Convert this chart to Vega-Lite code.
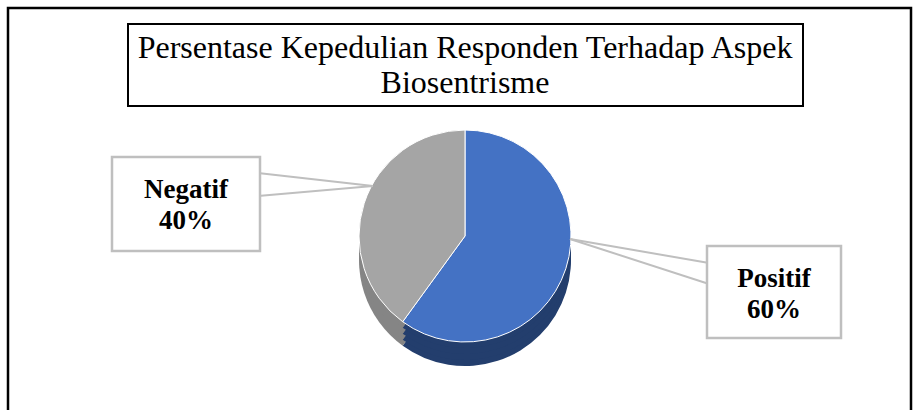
{
  "$schema": "https://vega.github.io/schema/vega-lite/v6.json",
  "width": 913,
  "height": 410,
  "padding": 0,
  "autosize": {"type": "none"},
  "background": "white",
  "config": {"view": {"stroke": null}},
  "datasets": {
    "pie": [
      {"category": "Positif", "value": 60},
      {"category": "Negatif", "value": 40}
    ],
    "one": [{}]
  },
  "layer": [
    {
      "data": {"name": "one"},
      "mark": {"type": "rect", "fill": null, "stroke": "#000000", "strokeWidth": 2.5},
      "encoding": {
        "x": {"datum": 8, "type": "quantitative", "scale": {"domain": [0, 913], "nice": false, "zero": false}, "axis": null},
        "x2": {"datum": 911},
        "y": {"datum": 8, "type": "quantitative", "scale": {"domain": [0, 410], "nice": false, "zero": false, "reverse": true}, "axis": null},
        "y2": {"datum": 440}
      }
    },
    {
      "data": {"name": "one"},
      "mark": {"type": "rect", "fill": "#ffffff", "stroke": "#000000", "strokeWidth": 2},
      "encoding": {
        "x": {"datum": 128, "type": "quantitative", "axis": null},
        "x2": {"datum": 803},
        "y": {"datum": 24, "type": "quantitative", "axis": null},
        "y2": {"datum": 106}
      }
    },
    {
      "data": {"name": "one"},
      "mark": {
        "type": "text",
        "text": ["Persentase Kepedulian Responden Terhadap Aspek", "Biosentrisme"],
        "font": "Liberation Serif",
        "fontSize": 32,
        "lineHeight": 35,
        "align": "center",
        "baseline": "middle",
        "color": "#000000"
      },
      "encoding": {
        "x": {"datum": 465, "type": "quantitative", "axis": null},
        "y": {"datum": 48, "type": "quantitative", "axis": null}
      }
    },
    {
      "data": {"name": "pie"},
      "mark": {"type": "arc", "outerRadius": 106},
      "encoding": {
        "theta": {"field": "value", "type": "quantitative", "stack": true},
        "order": {"field": "value", "sort": "descending"},
        "fill": {"field": "category", "type": "nominal", "scale": {"domain": ["Positif", "Negatif"], "range": ["#233e6d", "#858585"]}, "legend": null},
        "x": {"datum": 465, "type": "quantitative", "axis": null},
        "y": {"datum": 260, "type": "quantitative", "axis": null}
      }
    },
    {
      "data": {"name": "pie"},
      "mark": {"type": "arc", "outerRadius": 106},
      "encoding": {
        "theta": {"field": "value", "type": "quantitative", "stack": true},
        "order": {"field": "value", "sort": "descending"},
        "fill": {"field": "category", "type": "nominal", "legend": null},
        "x": {"datum": 465, "type": "quantitative", "axis": null},
        "y": {"datum": 254, "type": "quantitative", "axis": null}
      }
    },
    {
      "data": {"name": "pie"},
      "mark": {"type": "arc", "outerRadius": 106},
      "encoding": {
        "theta": {"field": "value", "type": "quantitative", "stack": true},
        "order": {"field": "value", "sort": "descending"},
        "fill": {"field": "category", "type": "nominal", "legend": null},
        "x": {"datum": 465, "type": "quantitative", "axis": null},
        "y": {"datum": 248, "type": "quantitative", "axis": null}
      }
    },
    {
      "data": {"name": "pie"},
      "mark": {"type": "arc", "outerRadius": 106},
      "encoding": {
        "theta": {"field": "value", "type": "quantitative", "stack": true},
        "order": {"field": "value", "sort": "descending"},
        "fill": {"field": "category", "type": "nominal", "legend": null},
        "x": {"datum": 465, "type": "quantitative", "axis": null},
        "y": {"datum": 242, "type": "quantitative", "axis": null}
      }
    },
    {
      "data": {"name": "pie"},
      "mark": {"type": "arc", "outerRadius": 106, "stroke": "#ffffff", "strokeWidth": 1},
      "encoding": {
        "theta": {"field": "value", "type": "quantitative", "stack": true},
        "order": {"field": "value", "sort": "descending"},
        "color": {"field": "category", "type": "nominal", "scale": {"domain": ["Positif", "Negatif"], "range": ["#4472c4", "#a5a5a5"]}, "legend": null},
        "x": {"datum": 465, "type": "quantitative", "axis": null},
        "y": {"datum": 236, "type": "quantitative", "axis": null}
      }
    },
    {
      "data": {"name": "one"},
      "mark": {"type": "rule", "stroke": "#bfbfbf", "strokeWidth": 2},
      "encoding": {
        "x": {"datum": 258, "type": "quantitative", "axis": null},
        "y": {"datum": 173, "type": "quantitative", "axis": null},
        "x2": {"datum": 373},
        "y2": {"datum": 186}
      }
    },
    {
      "data": {"name": "one"},
      "mark": {"type": "rule", "stroke": "#bfbfbf", "strokeWidth": 2},
      "encoding": {
        "x": {"datum": 258, "type": "quantitative", "axis": null},
        "y": {"datum": 196, "type": "quantitative", "axis": null},
        "x2": {"datum": 373},
        "y2": {"datum": 186}
      }
    },
    {
      "data": {"name": "one"},
      "mark": {"type": "rule", "stroke": "#bfbfbf", "strokeWidth": 2},
      "encoding": {
        "x": {"datum": 570, "type": "quantitative", "axis": null},
        "y": {"datum": 239, "type": "quantitative", "axis": null},
        "x2": {"datum": 709},
        "y2": {"datum": 263}
      }
    },
    {
      "data": {"name": "one"},
      "mark": {"type": "rule", "stroke": "#bfbfbf", "strokeWidth": 2},
      "encoding": {
        "x": {"datum": 570, "type": "quantitative", "axis": null},
        "y": {"datum": 239, "type": "quantitative", "axis": null},
        "x2": {"datum": 709},
        "y2": {"datum": 284}
      }
    },
    {
      "data": {"name": "one"},
      "mark": {"type": "rect", "fill": "#ffffff", "stroke": "#bfbfbf", "strokeWidth": 2.5},
      "encoding": {
        "x": {"datum": 112, "type": "quantitative", "axis": null},
        "x2": {"datum": 260},
        "y": {"datum": 157, "type": "quantitative", "axis": null},
        "y2": {"datum": 251}
      }
    },
    {
      "data": {"name": "one"},
      "mark": {"type": "rect", "fill": "#ffffff", "stroke": "#bfbfbf", "strokeWidth": 2.5},
      "encoding": {
        "x": {"datum": 707, "type": "quantitative", "axis": null},
        "x2": {"datum": 841},
        "y": {"datum": 246, "type": "quantitative", "axis": null},
        "y2": {"datum": 338}
      }
    },
    {
      "data": {"name": "pie"},
      "transform": [
        {"filter": "datum.category === 'Negatif'"},
        {"calculate": "[datum.category, datum.value + '%']", "as": "label"}
      ],
      "mark": {"type": "text", "font": "Liberation Serif", "fontWeight": "bold", "fontSize": 27, "lineHeight": 31, "align": "center", "baseline": "middle", "color": "#000000"},
      "encoding": {
        "text": {"field": "label"},
        "x": {"datum": 186, "type": "quantitative", "axis": null},
        "y": {"datum": 190, "type": "quantitative", "axis": null}
      }
    },
    {
      "data": {"name": "pie"},
      "transform": [
        {"filter": "datum.category === 'Positif'"},
        {"calculate": "[datum.category, datum.value + '%']", "as": "label"}
      ],
      "mark": {"type": "text", "font": "Liberation Serif", "fontWeight": "bold", "fontSize": 27, "lineHeight": 31, "align": "center", "baseline": "middle", "color": "#000000"},
      "encoding": {
        "text": {"field": "label"},
        "x": {"datum": 774, "type": "quantitative", "axis": null},
        "y": {"datum": 279, "type": "quantitative", "axis": null}
      }
    }
  ]
}
